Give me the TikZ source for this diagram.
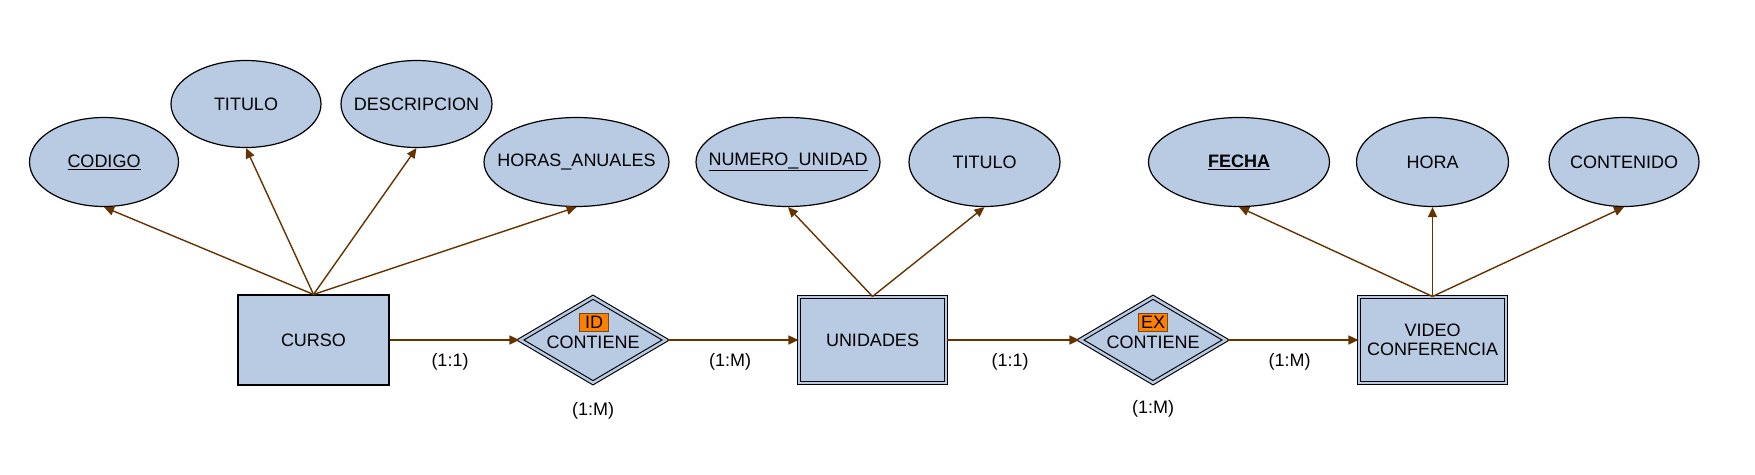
\documentclass[tikz,border=0pt]{standalone}
\usepackage{fontspec}
\setmainfont{Liberation Sans}
\usetikzlibrary{shapes.geometric,arrows.meta}
\definecolor{erfill}{HTML}{B9CAE3}
\definecolor{erline}{HTML}{663300}
\definecolor{tagfill}{HTML}{FF8000}
\begin{document}
\begin{tikzpicture}[x=1pt,y=-1pt,
  every node/.style={font=\fontsize{18}{21}\selectfont},
  attr/.style={ellipse,draw=black,fill=erfill,line width=1.2pt,inner sep=0pt,minimum height=89pt},
  ent/.style={rectangle,draw=black,fill=erfill,line width=1.1pt,minimum width=151pt,minimum height=90pt,inner sep=0pt,align=center},
  went/.style={ent,double=erfill,double distance=2.5pt,line width=1.1pt,minimum width=147pt,minimum height=86pt},
  rel/.style={diamond,draw=black,fill=erfill,double=erfill,double distance=2.5pt,line width=1.1pt,minimum width=146pt,minimum height=86pt,inner sep=0pt},
  conn/.style={draw=erline,line width=1.4pt,-{Triangle[length=10pt,width=9pt]}},
  tag/.style={draw=erline!70!gray,fill=tagfill,line width=0.8pt,inner sep=1.5pt,minimum width=29pt,minimum height=18pt},
  card/.style={inner sep=0pt}
]
\useasboundingbox (0,0) rectangle (1755,474);
\begin{scope}[yshift=-1pt]
% attributes
\node[attr,minimum width=149pt] (codigo) at (104,161) {};
\node (codigot) at (104,161) {\underline{CODIGO}};
\node[attr,minimum width=150pt,minimum height=87pt] (titulo) at (246,103) {};
\node (titulot) at (246,103) {TITULO};
\node[attr,minimum width=151pt,minimum height=87pt] (desc) at (416.5,103) {};
\node (desct) at (416.5,103) {DESCRIPCION};
\node[attr,minimum width=185pt] (horas) at (576.5,161) {};
\node (horast) at (576.5,161) {HORAS\_ANUALES};
\node[attr,minimum width=184pt] (numero) at (788,161) {};
\node (numerot) at (788,161) {\underline{NUMERO\_UNIDAD}};
\node[attr,minimum width=151pt] (titulo2) at (984.5,161) {};
\node (titulo2t) at (984.5,161) {TITULO};
\node[attr,minimum width=181pt] (fecha) at (1239,161) {};
\node (fechat) at (1239,161) {\textbf{\underline{FECHA}}};
\node[attr,minimum width=152pt] (hora) at (1432.5,161) {};
\node (horat) at (1432.5,161) {HORA};
\node[attr,minimum width=150pt] (contenido) at (1624,161) {};
\node (contenidot) at (1624,161) {CONTENIDO};
% entities
\node[ent] (curso) at (313.5,339) {CURSO};
\node[went] (unidades) at (872.5,339) {UNIDADES};
\node[went] (video) at (1432.5,339) {VIDEO\\[-2pt]CONFERENCIA};
% relations
\node[rel] (rel1) at (593,339) {};
\node (rel1t) at (593,341) {CONTIENE};
\node[tag] (rel1tag) at (594,321) {ID};
\node[rel] (rel2) at (1153,339) {};
\node (rel2t) at (1153,341) {CONTIENE};
\node[tag] (rel2tag) at (1153,321) {EX};
% attribute connectors
\draw[conn] (curso.north) -- (codigo.south);
\draw[conn] (curso.north) -- (titulo.south);
\draw[conn] (curso.north) -- (desc.south);
\draw[conn] (curso.north) -- (horas.south);
\draw[conn] (unidades.north) -- (numero.south);
\draw[conn] (unidades.north) -- (titulo2.south);
\draw[conn] (video.north) -- (fecha.south);
\draw[conn] (video.north) -- (hora.south);
\draw[conn] (video.north) -- (contenido.south);
% relationship connectors
\draw[conn] (curso.east) -- (rel1.west);
\draw[conn] (rel1.east) -- (unidades.west);
\draw[conn] (unidades.east) -- (rel2.west);
\draw[conn] (rel2.east) -- (video.west);
% cardinalities
\node[card] (c1) at (450,361) {(1:1)};
\node[card] (c2) at (593,410) {(1:M)};
\node[card] (c3) at (730,361) {(1:M)};
\node[card] (c4) at (1010,361) {(1:1)};
\node[card] (c5) at (1153,408) {(1:M)};
\node[card] (c6) at (1289.5,361) {(1:M)};
\end{scope}
\end{tikzpicture}
\end{document}
